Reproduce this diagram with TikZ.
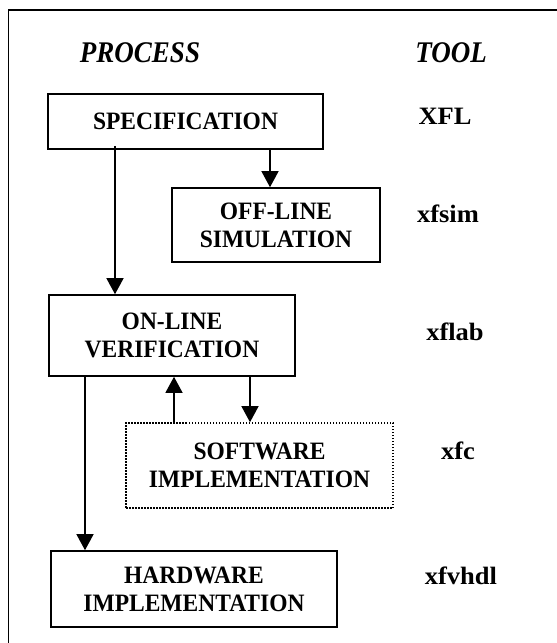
\documentclass[tikz,border=0pt]{standalone}
\usepackage{fontspec}
\setmainfont{Liberation Serif}
\newfontfamily\stagefont{Liberation Serif}[FakeStretch=0.94]
\newfontfamily\headfont{Liberation Serif}[FakeStretch=0.9]
\newfontfamily\toolfont{Liberation Serif}[FakeStretch=1.06]
\usetikzlibrary{arrows.meta, positioning}

\begin{document}
\begin{tikzpicture}[x=1pt, y=-1pt,
  stage/.style={draw, line width=1.6pt, align=center, inner sep=0pt,
    font=\stagefont\fontsize{25}{28}\selectfont\bfseries},
  flow/.style={line width=1.3pt, -{Triangle[length=16pt, width=17pt]}},
  heading/.style={font=\headfont\fontsize{30}{32}\selectfont\bfseries\itshape},
  toolname/.style={font=\toolfont\fontsize{25}{30}\selectfont\bfseries}]
\useasboundingbox (0,0) rectangle (557,643);
% outer frame
\draw[line width=1.3pt] (557,10) -| (8.5,643);

\node[heading] (process) at (140,53) {PROCESS};
\node[heading] (tool) at (451,53) {TOOL};

% process stages
\node[stage, minimum width=275pt, minimum height=55pt] (spec) at (185.5,121.5) {SPECIFICATION};
\node[stage, minimum width=208pt, minimum height=74pt] (offsim) at (276,225) {OFF-LINE\\SIMULATION};
\node[stage, minimum width=246pt, minimum height=81pt] (onver) at (172,335.5) {ON-LINE\\VERIFICATION};
\node[stage, dash pattern=on 1.5pt off 1.5pt, minimum width=267pt, minimum height=85pt]
  (swimpl) at (259.5,465.5) {SOFTWARE\\IMPLEMENTATION};
\node[stage, minimum width=286pt, minimum height=76pt] (hwimpl) at (194,589) {HARDWARE\\IMPLEMENTATION};

% tools
\node[toolname] (xfl) at (445,116) {XFL};
\node[toolname] (xfsim) at (448,214) {xfsim};
\node[toolname] (xflab) at (455,332) {xflab};
\node[toolname] (xfc) at (458,451) {xfc};
\node[toolname] (xfvhdl) at (461,576) {xfvhdl};

% flow between stages
\draw[flow] ([xshift=-70.5pt, yshift=4pt]spec.south) -- ([xshift=-70.5pt]spec.south |- onver.north);
\draw[flow] ([xshift=84.5pt]spec.south) -- ([xshift=84.5pt]spec.south |- offsim.north);
\draw[flow] ([xshift=-87pt]onver.south) -- ([xshift=-87pt]onver.south |- hwimpl.north);
\draw[flow] ([xshift=-85.5pt]swimpl.north) -- ([xshift=-85.5pt]swimpl.north |- onver.south);
\draw[flow] ([xshift=78pt]onver.south) -- ([xshift=78pt]onver.south |- swimpl.north);
\end{tikzpicture}
\end{document}
